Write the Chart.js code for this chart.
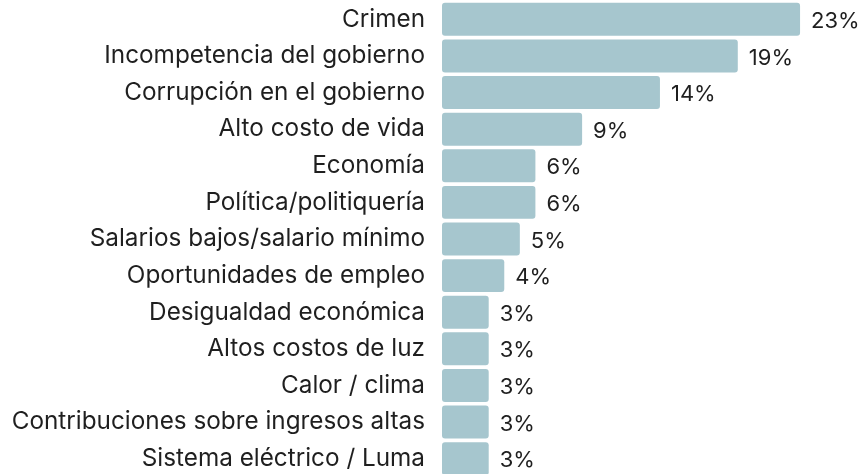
<!DOCTYPE html>
<html>
<head>
<meta charset="utf-8">
<script src="https://cdn.jsdelivr.net/npm/chart.js@4"></script>
<style>
  html, body { margin: 0; padding: 0; background: #ffffff; overflow: hidden; }
  #wrap { width: 867px; height: 477px; position: relative; }
</style>
</head>
<body>
<div id="wrap"><canvas id="chart"></canvas></div>
<script>
const categories = [
  "Crimen",
  "Incompetencia del gobierno",
  "Corrupción en el gobierno",
  "Alto costo de vida",
  "Economía",
  "Política/politiquería",
  "Salarios bajos/salario mínimo",
  "Oportunidades de empleo",
  "Desigualdad económica",
  "Altos costos de luz",
  "Calor / clima",
  "Contribuciones sobre ingresos altas",
  "Sistema eléctrico / Luma"
];
const percentages = [23, 19, 14, 9, 6, 6, 5, 4, 3, 3, 3, 3, 3];

const FONT = "Inter, 'Noto Sans', sans-serif";
const TEXT = "#1f1f1f";

// writes "NN%" just past the end of every bar
const valueLabels = {
  id: "valueLabels",
  afterDatasetsDraw(chart) {
    const ctx = chart.ctx;
    const meta = chart.getDatasetMeta(0);
    ctx.save();
    ctx.font = "400 22px " + FONT;
    ctx.fillStyle = TEXT;
    ctx.textAlign = "left";
    ctx.textBaseline = "middle";
    meta.data.forEach((bar, i) => {
      ctx.fillText(percentages[i] + "%", bar.x + 11, bar.y + 2);
    });
    ctx.restore();
  }
};

new Chart(document.getElementById("chart"), {
  type: "bar",
  data: {
    labels: categories,
    datasets: [{
      data: percentages,
      backgroundColor: "#a6c6ce",
      borderRadius: 3,
      borderSkipped: false,
      barPercentage: 0.9,
      categoryPercentage: 1.0
    }]
  },
  options: {
    indexAxis: "y",
    responsive: true,
    maintainAspectRatio: false,
    animation: false,
    layout: { padding: { top: 1, bottom: 0, left: 0, right: 0 } },
    plugins: {
      legend: { display: false },
      tooltip: { enabled: false }
    },
    scales: {
      x: {
        display: false,
        min: 0,
        max: 27.3
      },
      y: {
        grid: { display: false, drawTicks: false },
        border: { display: false },
        afterFit(scale) {
          scale.width = 442;
          scale.paddingTop = 0;
          scale.paddingBottom = 0;
        },
        ticks: {
          padding: 17,
          color: TEXT,
          font: { family: FONT, size: 24.3 }
        }
      }
    }
  },
  plugins: [valueLabels]
});
</script>
</body>
</html>
